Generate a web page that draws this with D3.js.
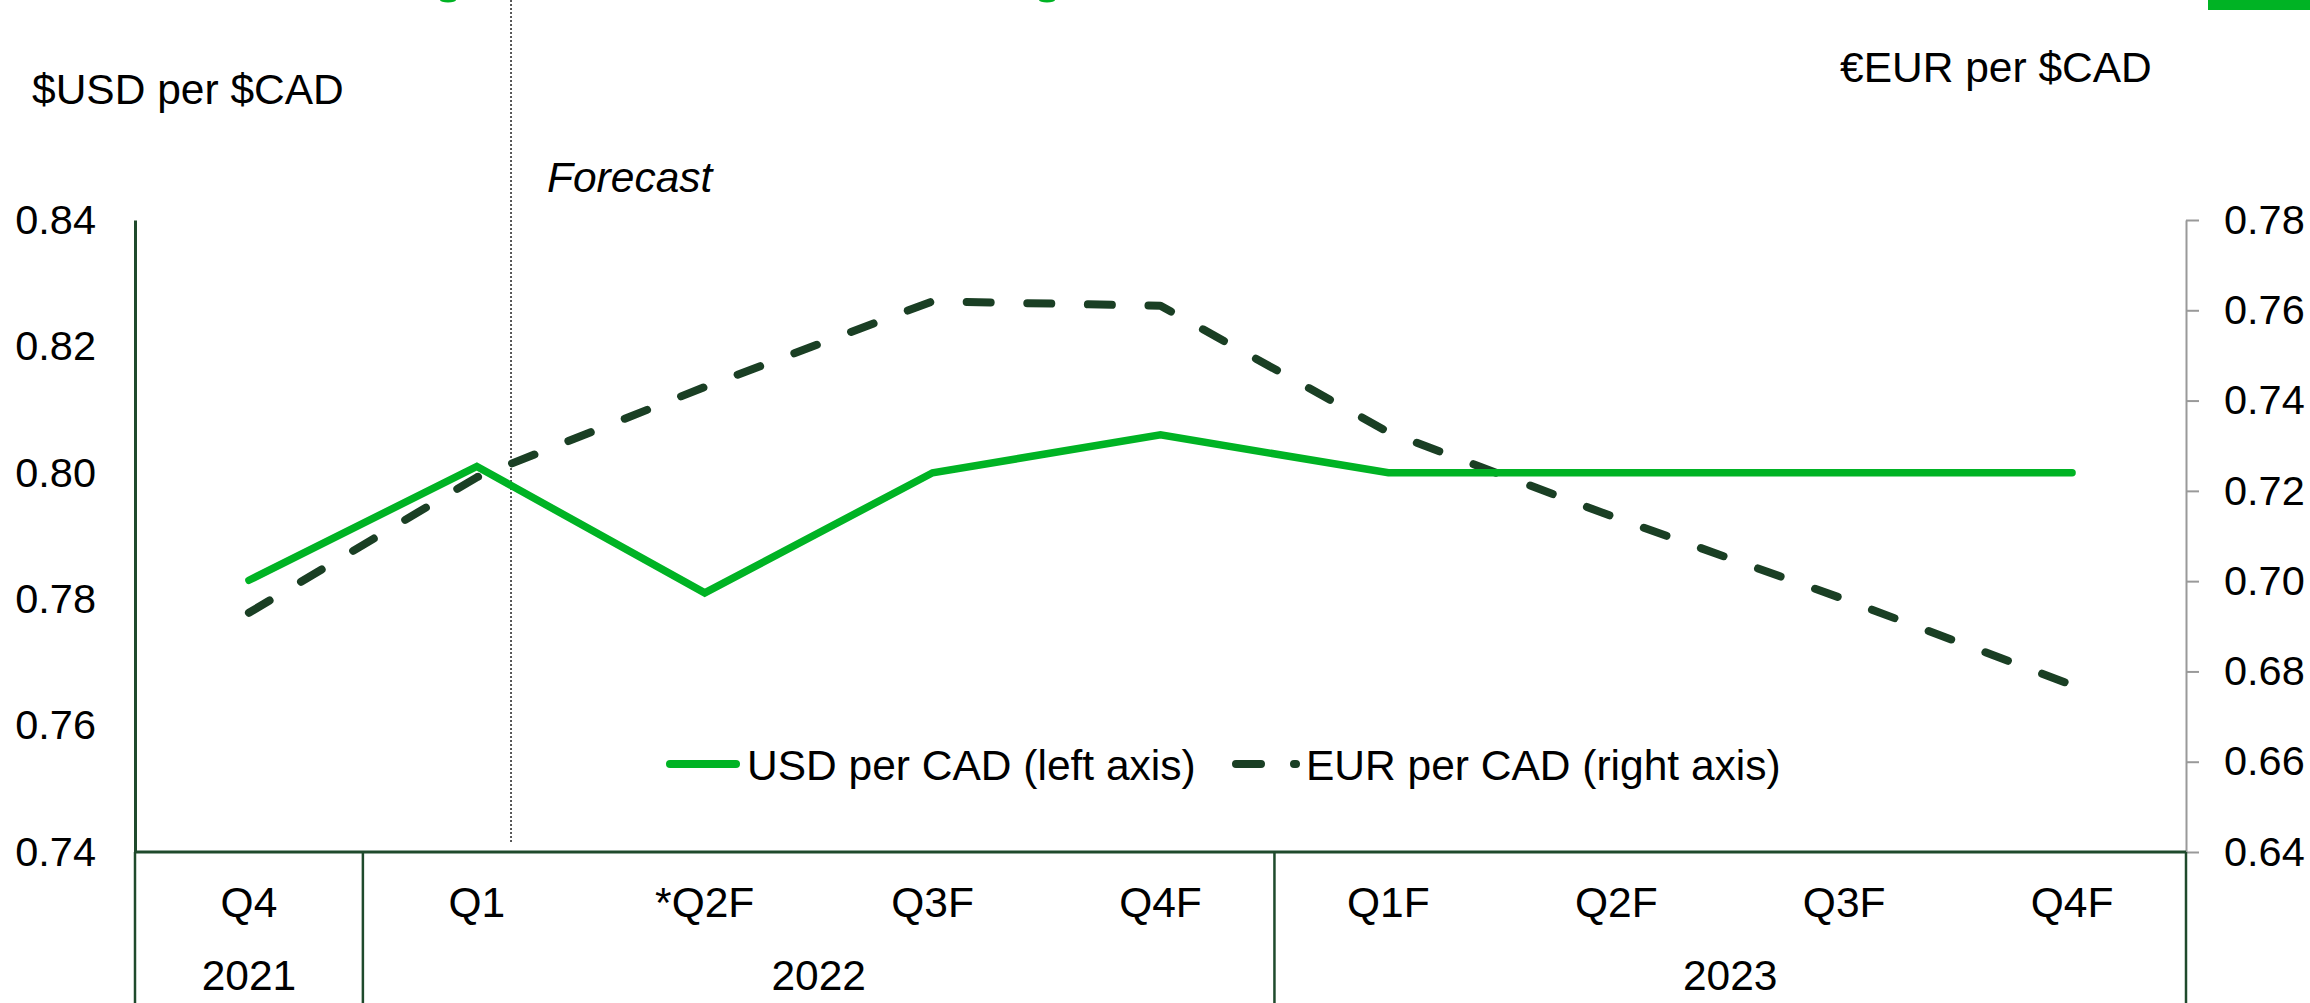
<!DOCTYPE html>
<html>
<head>
<meta charset="utf-8">
<script src="https://cdn.jsdelivr.net/npm/d3@7"></script>
<style>
  html, body { margin: 0; padding: 0; background: #fff; }
  svg { display: block; font-family: "Liberation Sans", Arial, sans-serif; }
</style>
</head>
<body>
<svg id="chart"></svg>
<script>
// Chart data
const quarters = ["Q4", "Q1", "*Q2F", "Q3F", "Q4F", "Q1F", "Q2F", "Q3F", "Q4F"];
const yearLabels = ["2021", "2022", "2023"];
const yearSpans = [1, 4, 4];
const usdPerCad = [0.783, 0.801, 0.781, 0.800, 0.806, 0.800, 0.800, 0.800, 0.800];
const eurPerCad = [0.693, 0.723, 0.743, 0.762, 0.761, 0.733, 0.714, 0.696, 0.677];
const leftTicks = [0.74, 0.76, 0.78, 0.80, 0.82, 0.84];
const rightTicks = [0.64, 0.66, 0.68, 0.70, 0.72, 0.74, 0.76, 0.78];
const seriesNames = ["USD per CAD (left axis)", "EUR per CAD (right axis)"];

// Set dimensions
const width = 2310;
const height = 1003;
const margin = { left: 135, right: 124, top: 220, bottom: 151 };
const plotBottom = height - margin.bottom;
const plotRight = width - margin.right;

const green = "#00b324";
const darkGreen = "#1a3f24";
const axisGreen = "#1f4a2c";
const fontSize = 42.5;
const tickFontSize = 41.5;

const svg = d3.select("#chart")
    .attr("width", width)
    .attr("height", height);

// Scales
const x = d3.scaleBand()
    .domain(d3.range(quarters.length))
    .range([margin.left, plotRight]);
const cx = i => x(i) + x.bandwidth() / 2;

const yLeft = d3.scaleLinear().domain([0.74, 0.84]).range([plotBottom, margin.top]);
const yRight = d3.scaleLinear().domain([0.64, 0.78]).range([plotBottom, margin.top]);

// Header decorations (cut-off title bits)
svg.append("rect")
    .attr("x", 2208).attr("y", 0)
    .attr("width", width - 2208).attr("height", 10)
    .attr("fill", green);
[448, 1047].forEach(px => {
    svg.append("ellipse")
        .attr("cx", px).attr("cy", 0)
        .attr("rx", 8).attr("ry", 2.5)
        .attr("fill", green);
});

// Axis titles
svg.append("text")
    .attr("x", 32).attr("y", 104)
    .attr("font-size", fontSize)
    .text("$USD per $CAD");
svg.append("text")
    .attr("x", 1840).attr("y", 82)
    .attr("font-size", fontSize)
    .text("€EUR per $CAD");

// Forecast divider
const forecastX = x(1) + x.bandwidth() * 0.65;
svg.append("line")
    .attr("x1", forecastX).attr("x2", forecastX)
    .attr("y1", 0).attr("y2", plotBottom - 10)
    .attr("stroke", "#222")
    .attr("stroke-width", 1.5)
    .attr("stroke-dasharray", "2 2");
svg.append("text")
    .attr("x", forecastX + 36).attr("y", 192)
    .attr("font-size", fontSize)
    .attr("font-style", "italic")
    .text("Forecast");

// Left axis
const leftAxis = svg.append("g")
    .attr("transform", `translate(${margin.left},0)`)
    .call(d3.axisLeft(yLeft)
        .tickValues(leftTicks)
        .tickFormat(d3.format(".2f"))
        .tickSize(0)
        .tickPadding(39));
leftAxis.select(".domain").attr("stroke", axisGreen).attr("stroke-width", 3);
leftAxis.selectAll("text")
    .attr("font-size", tickFontSize)
    .attr("font-family", "Liberation Sans, Arial, sans-serif")
    .attr("fill", "#000");

// Right axis
const rightAxis = svg.append("g")
    .attr("transform", `translate(${plotRight},0)`)
    .call(d3.axisRight(yRight)
        .tickValues(rightTicks)
        .tickFormat(d3.format(".2f"))
        .tickSize(13)
        .tickSizeOuter(0)
        .tickPadding(25));
rightAxis.select(".domain").attr("stroke", "#999").attr("stroke-width", 2);
rightAxis.selectAll("line").attr("stroke", "#999").attr("stroke-width", 2);
rightAxis.selectAll("text")
    .attr("font-size", tickFontSize)
    .attr("font-family", "Liberation Sans, Arial, sans-serif")
    .attr("fill", "#000");

// Bottom axis line and group separators
svg.append("line")
    .attr("x1", margin.left).attr("x2", plotRight)
    .attr("y1", plotBottom).attr("y2", plotBottom)
    .attr("stroke", axisGreen)
    .attr("stroke-width", 3);

const boundaries = [0];
yearSpans.forEach((s, i) => boundaries.push(boundaries[i] + s));
boundaries.forEach(b => {
    const bx = b < quarters.length ? x(b) : plotRight;
    svg.append("line")
        .attr("x1", bx).attr("x2", bx)
        .attr("y1", plotBottom).attr("y2", height)
        .attr("stroke", axisGreen)
        .attr("stroke-width", 2.5);
});

// Quarter labels
svg.selectAll(".qlabel")
    .data(quarters)
    .join("text")
    .attr("class", "qlabel")
    .attr("x", (d, i) => cx(i))
    .attr("y", 917)
    .attr("text-anchor", "middle")
    .attr("font-size", fontSize)
    .text(d => d);

// Year labels
svg.selectAll(".ylabel")
    .data(yearLabels)
    .join("text")
    .attr("class", "ylabel")
    .attr("x", (d, i) => {
        const x0 = x(boundaries[i]);
        const x1 = boundaries[i + 1] < quarters.length ? x(boundaries[i + 1]) : plotRight;
        return (x0 + x1) / 2;
    })
    .attr("y", 990)
    .attr("text-anchor", "middle")
    .attr("font-size", fontSize)
    .text(d => d);

// Lines
const usdLine = d3.line().x((d, i) => cx(i)).y(d => yLeft(d));
const eurLine = d3.line().x((d, i) => cx(i)).y(d => yRight(d));

svg.append("path")
    .datum(eurPerCad)
    .attr("d", eurLine)
    .attr("fill", "none")
    .attr("stroke", darkGreen)
    .attr("stroke-width", 8)
    .attr("stroke-linecap", "round")
    .attr("stroke-linejoin", "round")
    .attr("stroke-dasharray", "24 36.6");

svg.append("path")
    .datum(usdPerCad)
    .attr("d", usdLine)
    .attr("fill", "none")
    .attr("stroke", green)
    .attr("stroke-width", 7.5)
    .attr("stroke-linecap", "round")
    .attr("stroke-linejoin", "miter");

// Legend
const legendY = 764;
svg.append("line")
    .attr("x1", 670).attr("x2", 736)
    .attr("y1", legendY).attr("y2", legendY)
    .attr("stroke", green)
    .attr("stroke-width", 8)
    .attr("stroke-linecap", "round");
svg.append("text")
    .attr("x", 747).attr("y", legendY + 16)
    .attr("font-size", fontSize)
    .text(seriesNames[0]);

svg.append("line")
    .attr("x1", 1236).attr("x2", 1296)
    .attr("y1", legendY).attr("y2", legendY)
    .attr("stroke", darkGreen)
    .attr("stroke-width", 8)
    .attr("stroke-linecap", "round")
    .attr("stroke-dasharray", "25 33");
svg.append("text")
    .attr("x", 1306).attr("y", legendY + 16)
    .attr("font-size", fontSize)
    .text(seriesNames[1]);
</script>
</body>
</html>
